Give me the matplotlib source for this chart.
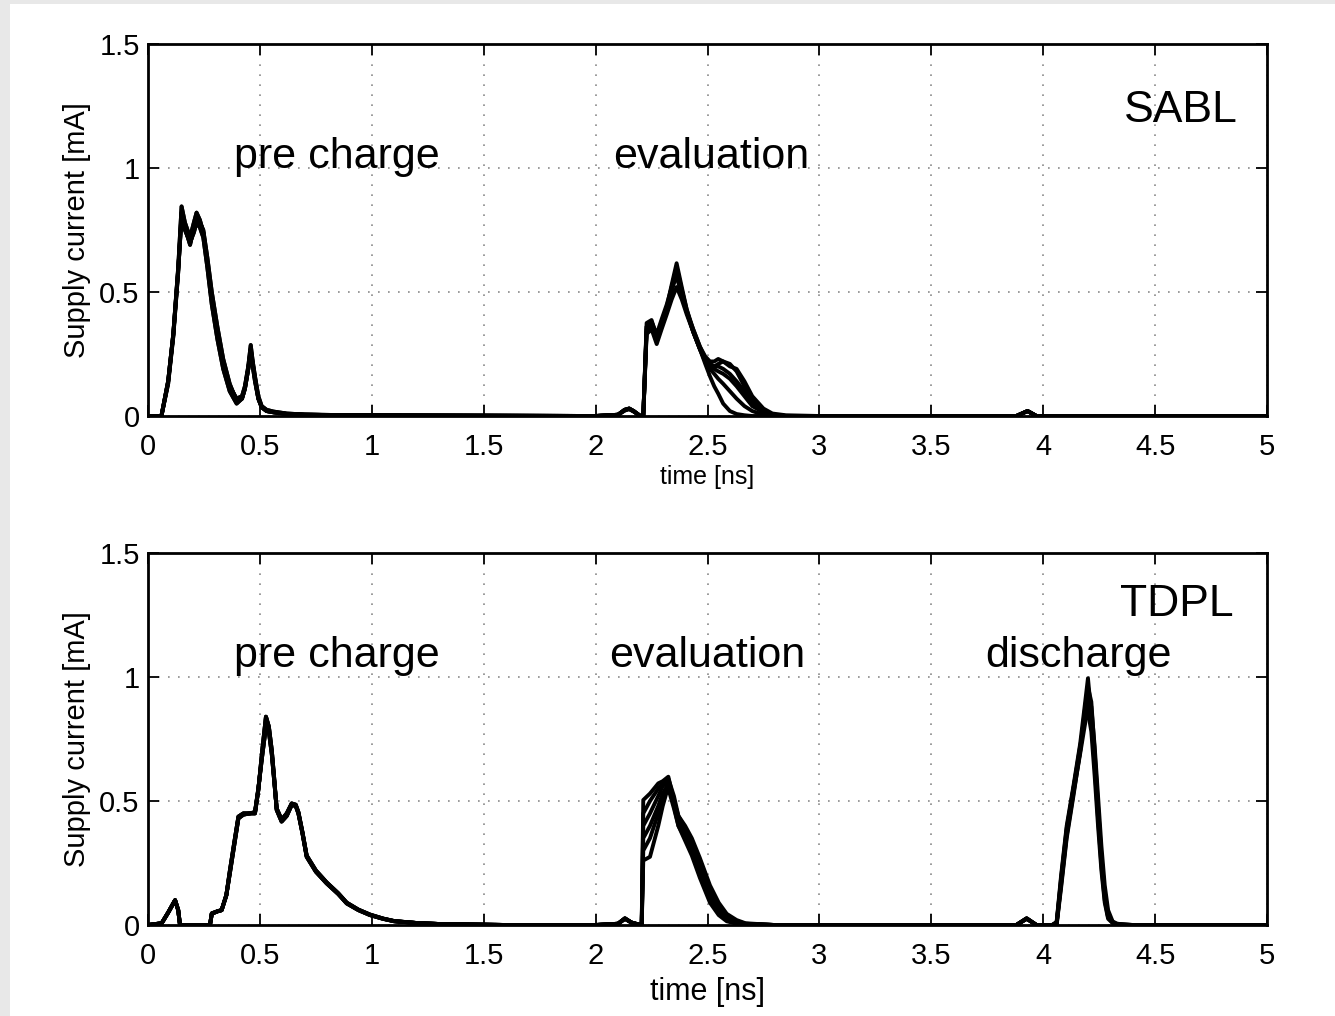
import matplotlib
matplotlib.use("Agg")
import matplotlib.pyplot as plt
from matplotlib.patches import Rectangle

plt.rcParams['font.family'] = ['Liberation Sans', 'DejaVu Sans']

# ---- SABL (top) ----
sabl_pre_t = [0, 0.06, 0.09, 0.113, 0.135, 0.15, 0.165, 0.188, 0.205, 0.217, 0.232, 0.247,
              0.265, 0.285, 0.31, 0.336, 0.365, 0.396, 0.42, 0.433, 0.448, 0.459, 0.468,
              0.478, 0.493, 0.508, 0.53, 0.56, 0.62, 0.7, 0.9, 1.2, 1.6, 2.0, 2.1, 2.13,
              2.15, 2.17, 2.2]
sabl_pre_i = [
    [0, 0, 0.14, 0.33, 0.60, 0.845, 0.78, 0.72, 0.78, 0.82, 0.79, 0.74, 0.62, 0.47, 0.33,
     0.21, 0.12, 0.07, 0.08, 0.12, 0.20, 0.286, 0.22, 0.16, 0.08, 0.04, 0.025, 0.018, 0.01,
     0.006, 0.003, 0.002, 0.001, 0, 0.005, 0.025, 0.03, 0.02, 0],
    [0, 0, 0.13, 0.32, 0.58, 0.82, 0.76, 0.69, 0.76, 0.80, 0.78, 0.75, 0.64, 0.50, 0.36,
     0.23, 0.13, 0.06, 0.07, 0.11, 0.19, 0.27, 0.21, 0.15, 0.07, 0.035, 0.02, 0.015, 0.008,
     0.005, 0.003, 0.002, 0.001, 0, 0.005, 0.022, 0.028, 0.018, 0],
    [0, 0, 0.14, 0.33, 0.59, 0.80, 0.75, 0.70, 0.74, 0.78, 0.76, 0.72, 0.60, 0.45, 0.31,
     0.19, 0.10, 0.05, 0.07, 0.11, 0.19, 0.26, 0.20, 0.14, 0.07, 0.035, 0.02, 0.015, 0.008,
     0.005, 0.003, 0.002, 0.001, 0, 0.005, 0.025, 0.03, 0.02, 0],
]
sabl_eval_t = [2.2, 2.213, 2.228, 2.25, 2.273, 2.295, 2.318, 2.34, 2.362, 2.385, 2.407, 2.436,
               2.466, 2.49, 2.511, 2.53, 2.548, 2.57, 2.6, 2.63, 2.665, 2.70, 2.75, 2.79,
               2.85, 3.0, 3.5, 3.88, 3.93, 3.97, 4.2, 5.0]
sabl_eval_i = [
    [0, 0, 0.375, 0.387, 0.32, 0.38, 0.44, 0.53, 0.616, 0.52, 0.43, 0.35, 0.28, 0.24, 0.22,
     0.22, 0.23, 0.22, 0.20, 0.19, 0.14, 0.08, 0.03, 0.01, 0.003, 0, 0, 0, 0.02, 0, 0, 0],
    [0, 0, 0.34, 0.36, 0.30, 0.37, 0.42, 0.50, 0.58, 0.50, 0.42, 0.34, 0.27, 0.22, 0.20,
     0.19, 0.18, 0.17, 0.15, 0.12, 0.08, 0.04, 0.015, 0.005, 0, 0, 0, 0, 0.02, 0, 0, 0],
    [0, 0, 0.36, 0.37, 0.31, 0.36, 0.43, 0.52, 0.60, 0.51, 0.43, 0.34, 0.27, 0.21, 0.16,
     0.12, 0.09, 0.05, 0.02, 0.008, 0.003, 0, 0, 0, 0, 0, 0, 0, 0.02, 0, 0, 0],
    [0, 0, 0.35, 0.38, 0.33, 0.39, 0.45, 0.52, 0.56, 0.49, 0.42, 0.35, 0.28, 0.23, 0.21,
     0.20, 0.21, 0.22, 0.21, 0.18, 0.12, 0.06, 0.02, 0.005, 0, 0, 0, 0, 0.02, 0, 0, 0],
    [0, 0, 0.36, 0.38, 0.31, 0.37, 0.43, 0.51, 0.59, 0.50, 0.42, 0.34, 0.27, 0.22, 0.19,
     0.17, 0.15, 0.13, 0.10, 0.07, 0.04, 0.02, 0.005, 0, 0, 0, 0, 0, 0.02, 0, 0, 0],
    [0, 0, 0.33, 0.35, 0.29, 0.35, 0.41, 0.47, 0.52, 0.47, 0.41, 0.34, 0.27, 0.23, 0.21,
     0.20, 0.20, 0.19, 0.17, 0.14, 0.10, 0.05, 0.02, 0.005, 0, 0, 0, 0, 0.02, 0, 0, 0],
]

# ---- TDPL (bottom) ----
tdpl_pre_t = [0, 0.061, 0.09, 0.121, 0.135, 0.143, 0.2, 0.277, 0.285, 0.31, 0.329, 0.35,
              0.366, 0.385, 0.404, 0.426, 0.455, 0.478, 0.493, 0.51, 0.527, 0.54, 0.553,
              0.565, 0.575, 0.597, 0.62, 0.642, 0.66, 0.672, 0.69, 0.709, 0.75, 0.798,
              0.85, 0.888, 0.94, 0.992, 1.05, 1.1, 1.2, 1.3, 1.45, 1.6, 2.0, 2.1, 2.131,
              2.16, 2.2]
tdpl_pre_i = [
    [0, 0.007, 0.05, 0.10, 0.06, 0, 0, 0, 0.047, 0.055, 0.06, 0.12, 0.22, 0.33, 0.437,
     0.45, 0.45, 0.45, 0.544, 0.70, 0.84, 0.80, 0.705, 0.58, 0.464, 0.417, 0.44, 0.484,
     0.48, 0.45, 0.37, 0.275, 0.215, 0.168, 0.125, 0.087, 0.06, 0.04, 0.025, 0.015,
     0.008, 0.004, 0.002, 0, 0, 0.005, 0.027, 0.01, 0],
    [0, 0.007, 0.05, 0.10, 0.06, 0, 0, 0, 0.045, 0.055, 0.06, 0.12, 0.21, 0.32, 0.43,
     0.445, 0.45, 0.455, 0.55, 0.68, 0.80, 0.78, 0.69, 0.57, 0.47, 0.425, 0.45, 0.49,
     0.485, 0.455, 0.375, 0.28, 0.22, 0.172, 0.128, 0.09, 0.062, 0.042, 0.026, 0.016,
     0.008, 0.004, 0.002, 0, 0, 0.005, 0.025, 0.01, 0],
]
tdpl_eval_t = [2.2, 2.206, 2.213, 2.243, 2.28, 2.30, 2.325, 2.35, 2.37, 2.40, 2.43, 2.466,
               2.511, 2.55, 2.586, 2.63, 2.67, 2.8, 3.5, 3.88, 3.926, 3.97, 4.04]
tdpl_eval_i = [
    [0, 0, 0.504, 0.53, 0.571, 0.58, 0.598, 0.50, 0.423, 0.38, 0.33, 0.24, 0.128, 0.07,
     0.034, 0.012, 0.005, 0, 0, 0, 0.027, 0, 0],
    [0, 0, 0.40, 0.45, 0.52, 0.56, 0.58, 0.48, 0.40, 0.35, 0.30, 0.21, 0.11, 0.05, 0.02,
     0.008, 0.003, 0, 0, 0, 0.025, 0, 0],
    [0, 0, 0.26, 0.275, 0.40, 0.48, 0.56, 0.50, 0.44, 0.39, 0.34, 0.26, 0.15, 0.08, 0.04,
     0.015, 0.005, 0, 0, 0, 0.027, 0, 0],
    [0, 0, 0.30, 0.35, 0.45, 0.52, 0.55, 0.47, 0.40, 0.34, 0.28, 0.19, 0.09, 0.04, 0.015,
     0.005, 0, 0, 0, 0, 0.025, 0, 0],
    [0, 0, 0.45, 0.50, 0.55, 0.57, 0.59, 0.52, 0.44, 0.40, 0.35, 0.27, 0.16, 0.09, 0.045,
     0.02, 0.007, 0, 0, 0, 0.027, 0, 0],
    [0, 0, 0.35, 0.40, 0.48, 0.53, 0.57, 0.49, 0.43, 0.37, 0.32, 0.23, 0.12, 0.06, 0.025,
     0.01, 0.003, 0, 0, 0, 0.025, 0, 0],
]
tdpl_dis_t = [4.04, 4.06, 4.08, 4.105, 4.135, 4.165, 4.185, 4.20, 4.215, 4.23, 4.245, 4.26,
              4.275, 4.29, 4.31, 4.33, 4.4, 5.0]
tdpl_dis_i = [
    [0, 0.013, 0.2, 0.40, 0.56, 0.73, 0.88, 0.995, 0.85, 0.665, 0.46, 0.26, 0.12, 0.033,
     0.01, 0.005, 0, 0],
    [0, 0, 0.15, 0.35, 0.52, 0.70, 0.84, 0.93, 0.88, 0.72, 0.52, 0.32, 0.16, 0.06, 0.015,
     0.005, 0, 0],
    [0, 0.01, 0.18, 0.38, 0.55, 0.72, 0.82, 0.86, 0.78, 0.60, 0.40, 0.22, 0.09, 0.025,
     0.008, 0, 0, 0],
    [0, 0, 0.17, 0.37, 0.54, 0.70, 0.86, 0.96, 0.90, 0.70, 0.48, 0.28, 0.12, 0.04, 0.01,
     0, 0, 0],
    [0, 0.005, 0.19, 0.39, 0.55, 0.71, 0.85, 0.90, 0.82, 0.64, 0.43, 0.24, 0.10, 0.03,
     0.01, 0, 0, 0],
    [0, 0.008, 0.16, 0.36, 0.53, 0.69, 0.80, 0.88, 0.84, 0.68, 0.47, 0.27, 0.13, 0.045,
     0.012, 0, 0, 0],
]

x_ticks = [0, 0.5, 1, 1.5, 2, 2.5, 3, 3.5, 4, 4.5, 5]
x_labels = ['0', '0.5', '1', '1.5', '2', '2.5', '3', '3.5', '4', '4.5', '5']
y_ticks = [0, 0.5, 1, 1.5]
y_labels = ['0', '0.5', '1', '1.5']

fig = plt.figure(figsize=(13.35, 10.16), dpi=100, facecolor='#e8e8e8')
fig.patches.append(Rectangle((10 / 1335, 0), 1, 1 - 4 / 1016, transform=fig.transFigure,
                             facecolor='white', edgecolor='none', zorder=-10))

ax1 = fig.add_axes([148 / 1335, 1 - 416 / 1016, 1119 / 1335, 372 / 1016])
ax2 = fig.add_axes([148 / 1335, 1 - 925 / 1016, 1119 / 1335, 372 / 1016])


def style(ax, xlabel_size, xlabel_pad):
    ax.set_xlim(0, 5)
    ax.set_ylim(0, 1.5)
    ax.set_xticks(x_ticks)
    ax.set_xticklabels(x_labels, fontsize=21)
    ax.set_yticks(y_ticks)
    ax.set_yticklabels(y_labels, fontsize=21)
    ax.tick_params(direction='in', length=8, width=1.3, top=True, right=True)
    ax.tick_params(axis='x', pad=12)
    ax.tick_params(axis='y', pad=6)
    ax.grid(True, linestyle=(0, (1, 5)), color='#8a8a8a', linewidth=1.2)
    for s in ax.spines.values():
        s.set_linewidth(2)
    ax.set_ylabel('Supply current [mA]', fontsize=21, labelpad=6)
    ax.set_xlabel('time [ns]', fontsize=xlabel_size, labelpad=xlabel_pad)


for k in range(len(sabl_eval_i)):
    ax1.plot(sabl_pre_t + sabl_eval_t, sabl_pre_i[k % len(sabl_pre_i)] + sabl_eval_i[k],
             color='black', lw=2.8)
style(ax1, 18, 3)
ax1.text(0.385, 1.0, 'pre charge', fontsize=31, va='baseline')
ax1.text(2.08, 1.0, 'evaluation', fontsize=31, va='baseline')
ax1.text(4.87, 1.185, 'SABL', fontsize=32, va='baseline', ha='right')

for k in range(len(tdpl_eval_i)):
    ax2.plot(tdpl_pre_t + tdpl_eval_t + tdpl_dis_t,
             tdpl_pre_i[k % len(tdpl_pre_i)] + tdpl_eval_i[k] + tdpl_dis_i[k],
             color='black', lw=2.8)
style(ax2, 22, 5)
ax2.text(0.385, 1.04, 'pre charge', fontsize=31, va='baseline')
ax2.text(2.06, 1.04, 'evaluation', fontsize=31, va='baseline')
ax2.text(3.74, 1.04, 'discharge', fontsize=31, va='baseline')
ax2.text(4.85, 1.245, 'TDPL', fontsize=32, va='baseline', ha='right')

fig.savefig('out.png', dpi=100, facecolor=fig.get_facecolor())
